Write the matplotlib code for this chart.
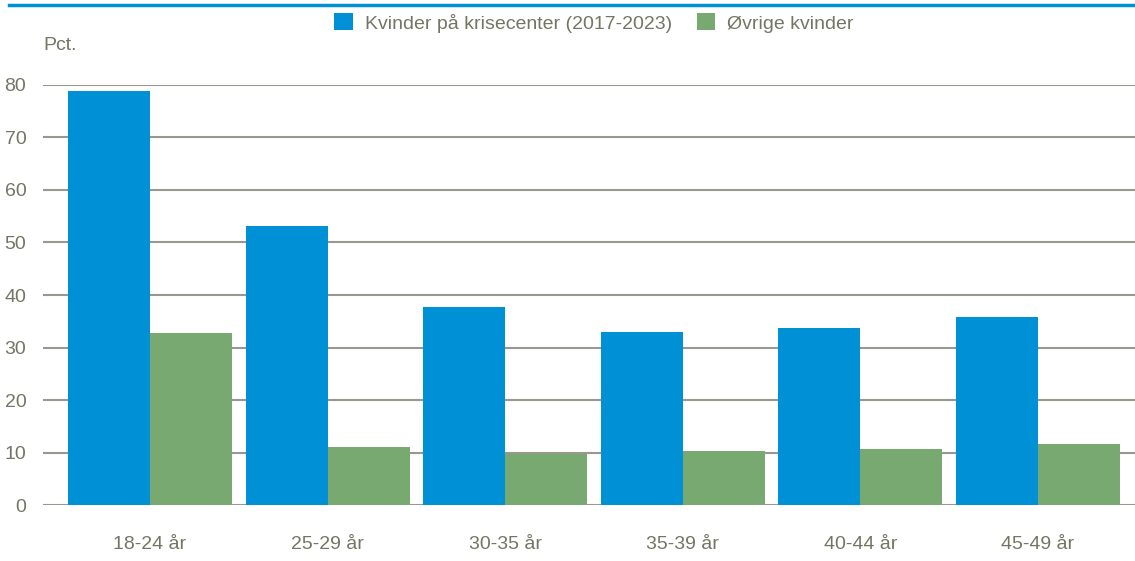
import numpy as np
import matplotlib.pyplot as plt
from matplotlib.lines import Line2D

plt.rcParams['font.family'] = ['Liberation Sans', 'DejaVu Sans']

groups = ['18-24 år', '25-29 år', '30-35 år', '35-39 år', '40-44 år', '45-49 år']
krisecenter = [78.9, 53.1, 37.7, 33.0, 33.7, 35.8]
oevrige = [32.8, 11.0, 9.7, 10.3, 10.7, 11.6]
series_names = ['Kvinder på krisecenter (2017-2023)', 'Øvrige kvinder']

blue = '#0090d5'
green = '#78a970'
text_col = '#757565'
grid_col = '#9a988c'

fig = plt.figure(figsize=(11.35, 5.61), dpi=100)
ax = fig.add_axes([0.0379, 0.0998, 0.9621, 0.7487])

x = np.arange(len(groups))
w = 0.4617
ax.bar(x - w / 2, krisecenter, w, color=blue, label=series_names[0], zorder=3)
ax.bar(x + w / 2, oevrige, w, color=green, label=series_names[1], zorder=3)

ax.set_xlim(-0.6025, 5.546)
ax.set_ylim(0, 80)
ax.set_yticks(range(0, 81, 10))
ax.yaxis.grid(True, color=grid_col, linewidth=1.5, zorder=0)
ax.set_xticks(x)
ax.set_xticklabels(groups)
ax.tick_params(axis='both', length=0, labelsize=14, colors=text_col)
ax.tick_params(axis='x', pad=22)
ax.tick_params(axis='y', pad=12)
for s in ax.spines.values():
    s.set_visible(False)

fig.text(43 / 1135, 1 - 45 / 561, 'Pct.', fontsize=14, color=text_col, va='center', ha='left')

fig.add_artist(Line2D([9 / 1135, 1], [1 - 5 / 561, 1 - 5 / 561], color=blue, linewidth=2.5))

fig.legend(loc='center', bbox_to_anchor=(594 / 1135, 1 - 23 / 561), ncol=2, frameon=False,
           fontsize=14, labelcolor=text_col, handlelength=0.95, handleheight=0.95,
           handletextpad=0.6, columnspacing=1.3)

fig.savefig('out.png', dpi=100)
